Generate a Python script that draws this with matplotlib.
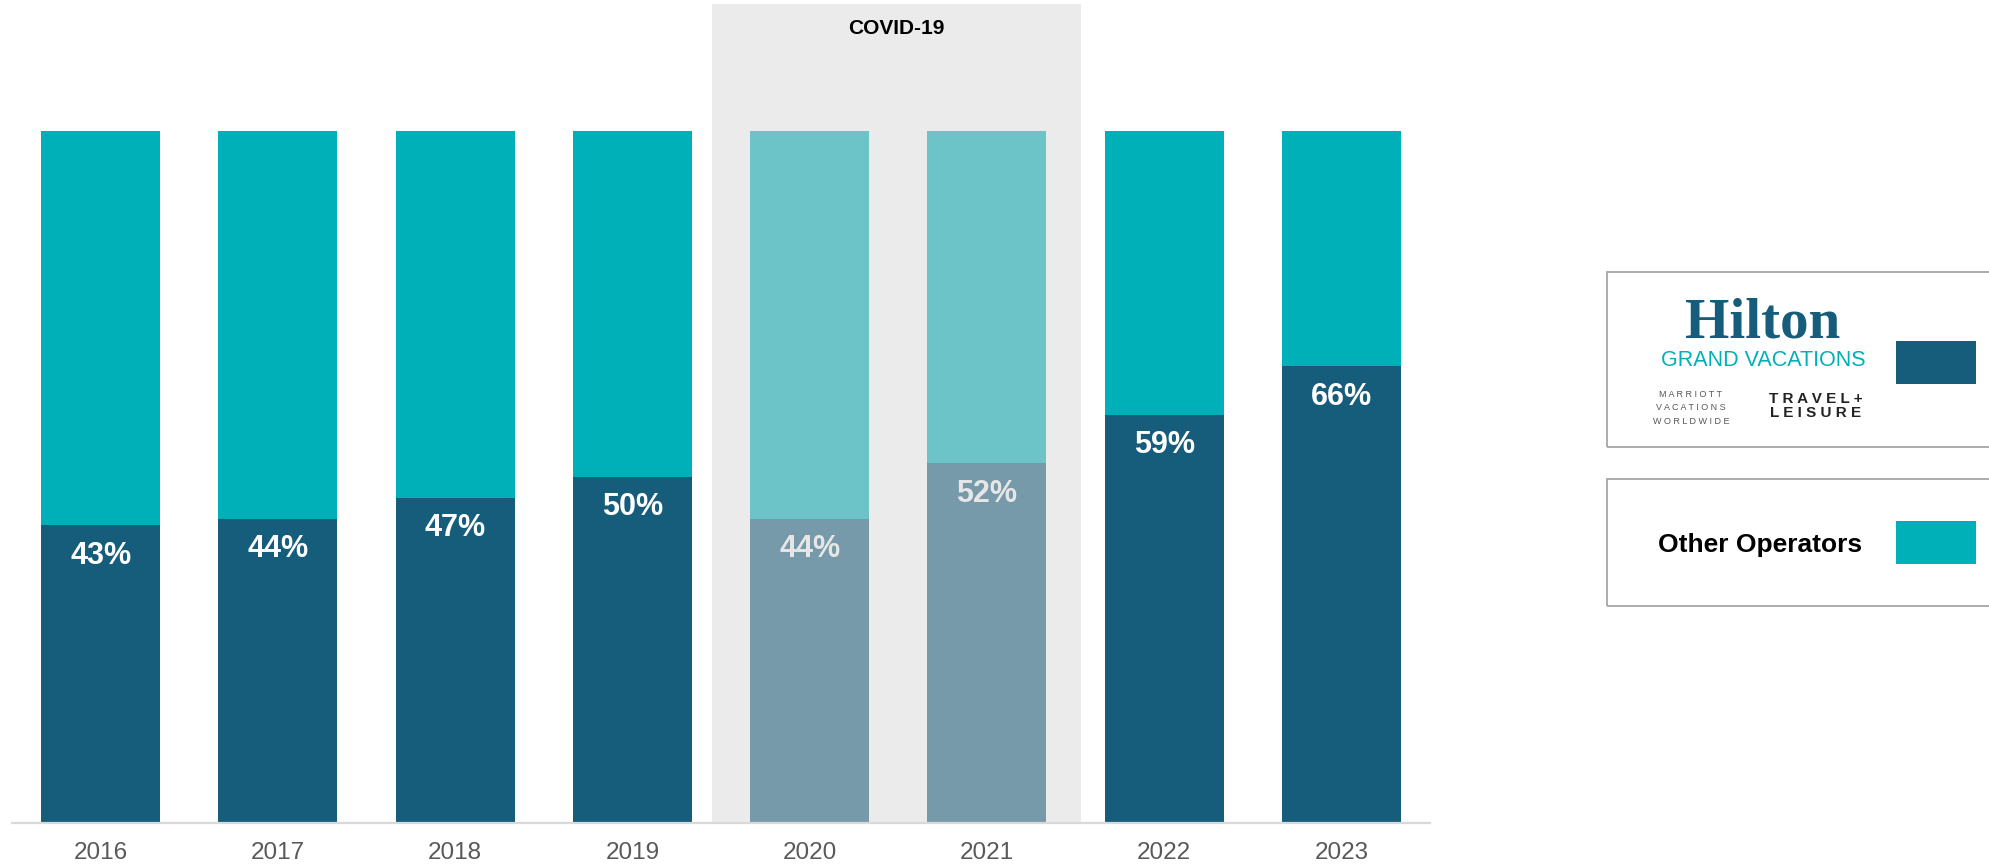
import matplotlib.pyplot as plt
from matplotlib.patches import Rectangle

plt.rcParams['font.family'] = ['Liberation Sans', 'DejaVu Sans']

years = ['2016', '2017', '2018', '2019', '2020', '2021', '2022', '2023']
big_three = [43, 44, 47, 50, 44, 52, 59, 66]
covid_years = ['2020', '2021']

DARK = '#165c7b'
TEAL = '#00b0b9'
DARK_FADED = '#769aaa'
TEAL_FADED = '#6cc4c8'

W, H = 1990, 866
fig = plt.figure(figsize=(W / 100, H / 100), dpi=100)


def px(x, y):
    # pixel position (from top-left) -> figure fraction
    return x / W, 1 - y / H


ax = fig.add_axes([12 / W, (H - 823) / H, 1418 / W, 819 / H])
ax.set_xlim(-0.5, len(years) - 0.5)
ax.set_ylim(0, 118.35)

ax.axvspan(3.45, 5.53, color='#ebebeb', zorder=0, lw=0)
ax.text(4.49, 114.8, 'COVID-19', ha='center', va='center',
        fontsize=15, fontweight='bold', color='black')

for i, (yr, v) in enumerate(zip(years, big_three)):
    faded = yr in covid_years
    c_low = DARK_FADED if faded else DARK
    c_top = TEAL_FADED if faded else TEAL
    ax.bar(i, v, width=0.67, color=c_low, zorder=2)
    ax.bar(i, 100 - v, bottom=v, width=0.67, color=c_top, zorder=2)
    ax.text(i, v - 4.4, f'{v}%', ha='center', va='center', fontsize=22,
            fontweight='bold', color='#e6e6e6' if faded else 'white', zorder=3)

ax.set_xticks(range(len(years)))
ax.set_xticklabels(years, fontsize=17.5, color='#595959')
ax.tick_params(axis='x', length=0, pad=14)
ax.set_yticks([])
for s in ['top', 'right', 'left']:
    ax.spines[s].set_visible(False)
ax.spines['bottom'].set_color('#d9d9d9')
ax.spines['bottom'].set_linewidth(1.6)
ax.patch.set_visible(False)

# legend panels on the right
for top, bottom in [(272, 447), (479, 606)]:
    x0, y0 = px(1607, bottom)
    fig.patches.append(Rectangle((x0, y0), 400 / W, (bottom - top) / H,
                                 transform=fig.transFigure, fill=False,
                                 ec='#a6a6a6', lw=1.3))
for top, col in [(341, DARK), (521, TEAL)]:
    x0, y0 = px(1896, top + 43)
    fig.patches.append(Rectangle((x0, y0), 80 / W, 43 / H,
                                 transform=fig.transFigure, color=col, lw=0))

fig.text(*px(1763, 323), 'Hilton', ha='center', va='center',
         family='Liberation Serif', fontweight='bold', fontsize=41, color=DARK)
fig.text(*px(1763, 360), 'GRAND VACATIONS', ha='center', va='center',
         fontsize=15.5, color=TEAL)
fig.text(*px(1691, 408), 'M A R R I O T T\nV A C A T I O N S\nW O R L D W I D E',
         ha='center', va='center', fontsize=6.5, color='#555555', linespacing=1.6)
fig.text(*px(1816, 406), 'T R A V E L +\nL E I S U R E', ha='center', va='center',
         fontsize=11, fontweight='bold', color='#222222', linespacing=0.95)
fig.text(*px(1760, 545), 'Other Operators', ha='center', va='center',
         fontsize=19, fontweight='bold', color='black')

fig.savefig('out.png', dpi=100)
